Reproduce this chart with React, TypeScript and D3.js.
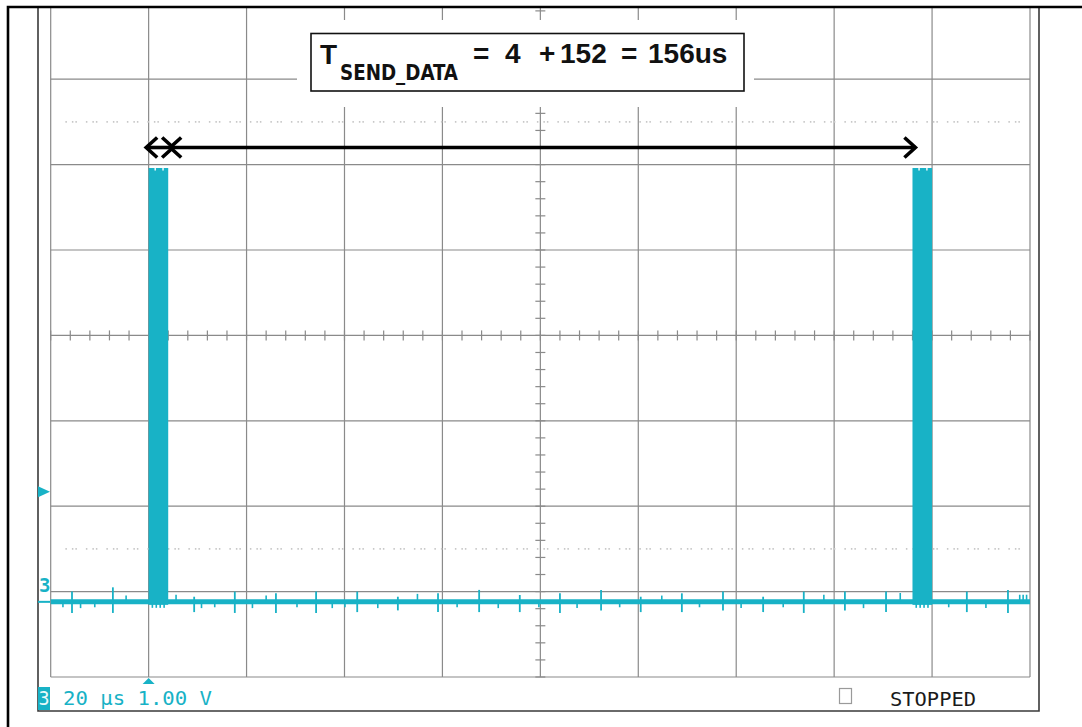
import React, { useEffect } from 'react';
import * as d3 from 'd3';

// ---------- data ----------
// horizontal: 20 us / div, 10 divisions
const timeGrid = [0, 20, 40, 60, 80, 100, 120, 140, 160, 180, 200];
// vertical: 8 divisions (1.00 V / div)
const divGrid = [0, 1, 2, 3, 4, 5, 6, 7, 8];
const groundDiv = 0.88;        // channel-3 ground level (divisions above bottom)
const triggerLevelV = 1.29;    // trigger level marker (V)
const triggerTimeUs = 20;      // trigger position (us)
const cursorDivs = [1.5, 6.5]; // dotted cursor rows (div)

// data bursts on channel 3
const burstStart = [20, 176];
const burstEnd = [24, 180];
const burstHigh = [5.08, 5.08];

// periodic spikes on the idle line
const spikeTimes = [4.35, 12.7, 29.3, 37.6, 46.0, 54.2, 62.6, 70.9, 79.1, 87.5, 95.8, 104.0, 112.4, 120.5, 128.9, 137.3, 145.5, 153.8, 162.2, 170.6, 187.1, 195.5];
const spikeUp = [0.12, 0.17, 0.06, 0.12, 0.10, 0.12, 0.12, 0.06, 0.10, 0.14, 0.08, 0.10, 0.14, 0.06, 0.10, 0.12, 0.06, 0.12, 0.12, 0.12, 0.12, 0.14];
const spikeDown = [0.13, 0.13, 0.12, 0.13, 0.13, 0.13, 0.12, 0.10, 0.12, 0.12, 0.12, 0.13, 0.10, 0.12, 0.12, 0.10, 0.12, 0.13, 0.10, 0.12, 0.12, 0.13];

// small glitches (V, + up / - down)
const glitchTimes = [2.5, 6.1, 9.0, 15.4, 25.6, 30.8, 33.5, 41.2, 44.0, 50.3, 57.5, 60.1, 66.8, 74.9, 83.0, 91.4, 99.7, 107.5, 116.2, 124.8, 132.5, 141.0, 149.6, 157.9, 166.0, 173.5, 183.4, 191.0, 197.9, 198.6, 199.3];
const glitchSize = [-0.04, -0.05, -0.04, 0.05, 0.06, -0.05, -0.04, -0.05, 0.05, -0.04, -0.05, -0.04, -0.05, 0.07, -0.04, -0.05, -0.04, -0.05, -0.04, 0.05, -0.04, -0.05, -0.04, 0.06, -0.05, 0.08, -0.04, -0.05, 0.06, 0.06, 0.06];

// annotation arrows (us)
const shortArrow = [19.5, 25.0];
const longArrow = [24.4, 176.6];

const labelT = 'T';
const labelSub = 'SEND_DATA';
const labelParts = ['=', '4', '+', '152', '=', '156us'];
const readoutChannel = '3';
const readoutText = '20 μs 1.00 V';
const statusText = 'STOPPED';

// ---------- layout ----------
const W = 1082, H = 727;
const CYAN = '#18B2C6';
const GRID = '#8a8a8a';

export default function App() {
  useEffect(() => {
    document.documentElement.style.overflow = 'hidden';
    document.body.style.margin = '0';
  }, []);

  const x = d3.scaleLinear().domain([0, 200]).range([50.7, 1030]);
  const yDiv = d3.scaleLinear().domain([0, 8]).range([677, -6.2]);
  const yV = (v: number) => yDiv(groundDiv + v);

  const xC = x(100);
  const yC = yDiv(4);
  const minorDivX = d3.range(0, 10.001, 0.2).map(d => d * 20);
  const minorDivY = d3.range(0, 8.001, 0.2);

  const y0 = yV(0);
  const baseLine = d3.line<[number, number]>().x(d => x(d[0])).y(d => yV(d[1]));

  const chevron = (tipX: number, dir: number, yy: number) =>
    `M${tipX + dir * 11},${yy - 10} L${tipX},${yy} L${tipX + dir * 11},${yy + 10}`;

  const arrowY = 147.5;
  const mono = '"DejaVu Sans Mono", monospace';
  const sans = '"Liberation Sans", Arial, sans-serif';

  return (
    <svg width={W} height={H} viewBox={`0 0 ${W} ${H}`}
      style={{ position: 'absolute', left: 0, top: 0, background: '#fff', display: 'block' }}>
      <defs>
        <clipPath id="inner">
          <rect x={9} y={8} width={1036} height={H - 8} />
        </clipPath>
      </defs>
      <rect x={0} y={0} width={W} height={H} fill="#fff" />

      <g clipPath="url(#inner)">
        {/* grid */}
        {timeGrid.map(t => (
          <line key={'v' + t} x1={x(t)} x2={x(t)} y1={yDiv(8)} y2={yDiv(0)} stroke={GRID} strokeWidth={1.2} />
        ))}
        {divGrid.map(d => (
          <line key={'h' + d} x1={x(0)} x2={x(200)} y1={yDiv(d)} y2={yDiv(d)} stroke={GRID} strokeWidth={1.2} />
        ))}
        {/* minor ticks on centre axes */}
        {minorDivX.map(t => (
          <line key={'mx' + t} x1={x(t)} x2={x(t)} y1={yC - 5} y2={yC + 5} stroke={GRID} strokeWidth={1.2} />
        ))}
        {minorDivY.map(d => (
          <line key={'my' + d} x1={xC - 5} x2={xC + 5} y1={yDiv(d)} y2={yDiv(d)} stroke={GRID} strokeWidth={1.2} />
        ))}
        {/* dotted cursor rows */}
        {cursorDivs.map(d => (
          <line key={'c' + d} x1={x(3)} x2={x(199)} y1={yDiv(d)} y2={yDiv(d)}
            stroke="#c8c8c8" strokeWidth={1.6} strokeDasharray="1.5 5 1.5 2 1.5 9" />
        ))}

        {/* label box with mask */}
        <rect x={297} y={20} width={457} height={87} fill="#fff" />
        <rect x={311} y={33.5} width={433} height={57.5} fill="#fff" stroke="#111" strokeWidth={1.6} />
        <text x={320} y={64} fontFamily={sans} fontWeight="bold" fontSize={28} fill="#111">{labelT}</text>
        <text x={340} y={80} fontFamily='"DejaVu Sans Condensed", "Liberation Sans", sans-serif' fontWeight="bold"
          fontSize={21} fill="#111" textLength={118} lengthAdjust="spacingAndGlyphs">{labelSub}</text>
        <text y={63} fontFamily={sans} fontWeight="bold" fontSize={28} fill="#111">
          {labelParts.map((p, i) => (
            <tspan key={i} x={[473, 505, 539, 560, 621, 648][i]}>{p}</tspan>
          ))}
        </text>

        {/* arrows */}
        <g stroke="#000" strokeWidth={3.6} fill="none" strokeLinejoin="miter">
          <line x1={x(shortArrow[0])} x2={x(shortArrow[1])} y1={arrowY} y2={arrowY} />
          <path d={chevron(x(shortArrow[0]), 1, arrowY)} />
          <path d={chevron(x(shortArrow[1]), -1, arrowY)} />
          <line x1={x(longArrow[0])} x2={x(longArrow[1])} y1={arrowY} y2={arrowY} />
          <path d={chevron(x(longArrow[0]), 1, arrowY)} />
          <path d={chevron(x(longArrow[1]), -1, arrowY)} />
        </g>

        {/* trace: idle baseline */}
        <path d={baseLine([[0, 0], [200, 0]]) || ''} stroke={CYAN} strokeWidth={5} fill="none" />
        {spikeTimes.map((t, i) => (
          <line key={'s' + i} x1={x(t)} x2={x(t)} y1={yV(spikeUp[i])} y2={yV(-spikeDown[i])} stroke={CYAN} strokeWidth={1.8} />
        ))}
        {glitchTimes.map((t, i) => (
          <line key={'g' + i} x1={x(t)} x2={x(t)} y1={y0} y2={yV(glitchSize[i]) + (glitchSize[i] < 0 ? 2 : -2)}
            stroke={CYAN} strokeWidth={1.6} />
        ))}
        {/* data bursts */}
        {burstStart.map((s, i) => {
          const x0 = x(s), x1 = x(burstEnd[i]);
          const top = yV(burstHigh[i]);
          return (
            <g key={'b' + i}>
              <rect x={x0} y={top} width={x1 - x0} height={y0 + 3 - top} fill={CYAN} />
              {[0.15, 0.35, 0.55, 0.75].map((f, j) => (
                <rect key={j} x={x0 + (x1 - x0) * f} y={y0 + 2} width={1.6} height={4} fill={CYAN} />
              ))}
              {[0.3, 0.7].map((f, j) => (
                <rect key={'n' + j} x={x0 + (x1 - x0) * f} y={top} width={1.4} height={2.5} fill="#fff" />
              ))}
            </g>
          );
        })}

        {/* scope frame */}
        <path d={`M38,0 L38,711 L1039,711 L1039,0`} fill="none" stroke="#3a3a3a" strokeWidth={1.6} />

        {/* channel markers */}
        <text x={39} y={592} fontFamily={mono} fontWeight="bold" fontSize={19} fill={CYAN}>{readoutChannel}</text>
        <line x1={38} x2={50} y1={y0} y2={y0} stroke={CYAN} strokeWidth={2} />
        <path d={`M38,${yV(triggerLevelV) - 5.5} L50,${yV(triggerLevelV)} L38,${yV(triggerLevelV) + 5.5} Z`} fill={CYAN} />
        <path d={`M${x(triggerTimeUs) - 6},684 L${x(triggerTimeUs)},678 L${x(triggerTimeUs) + 6},684 Z`} fill={CYAN} />

        {/* readout */}
        <rect x={38} y={687} width={12} height={23} fill={CYAN} />
        <text x={38.5} y={705} fontFamily={mono} fontSize={20} fill="#eafafa" textLength={11} lengthAdjust="spacingAndGlyphs">{readoutChannel}</text>
        <text x={63} y={705} fontFamily={mono} fontSize={20} fill={CYAN} textLength={149} lengthAdjust="spacingAndGlyphs">{readoutText}</text>
        <rect x={839.5} y={688.5} width={12} height={15} fill="none" stroke="#9a9a9a" strokeWidth={1.2} />
        <text x={890} y={705.5} fontFamily={mono} fontSize={20} fill="#1a1a1a" textLength={86} lengthAdjust="spacingAndGlyphs">{statusText}</text>
      </g>

      {/* blank margin right of the scope frame */}
      <rect x={1045} y={9} width={W - 1045} height={H - 9} fill="#fff" />

      {/* outer document frame (left and top edges) */}
      <path d={`M8,${H} L8,7 L${W},7`} fill="none" stroke="#000" strokeWidth={2.6} />
    </svg>
  );
}
